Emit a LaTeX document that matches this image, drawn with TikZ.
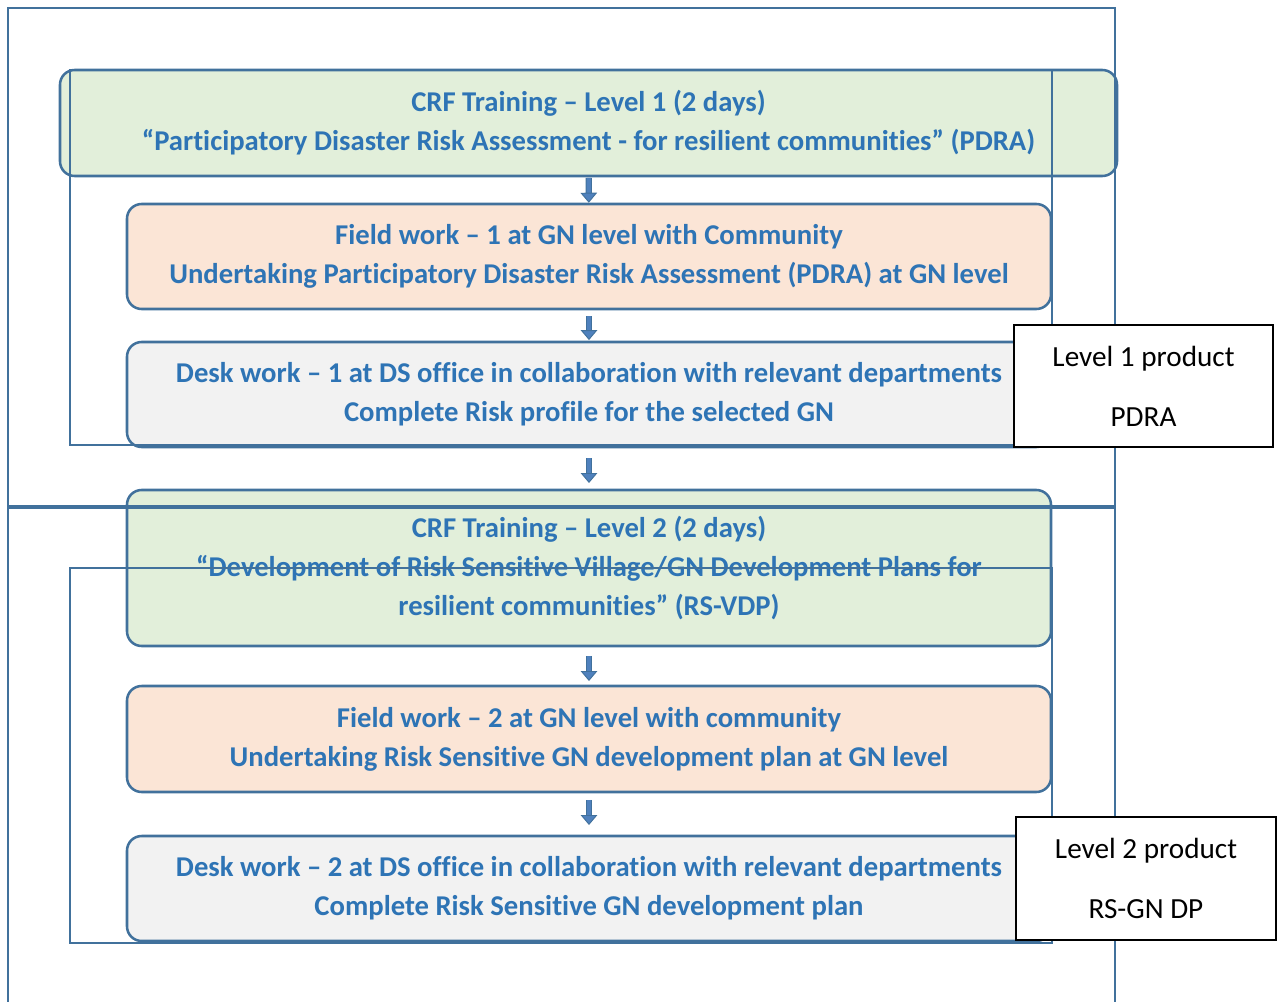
\documentclass[tikz,border=0pt]{standalone}
\usepackage{fontspec}
\setmainfont{Carlito}[Ligatures=NoCommon]
\usetikzlibrary{arrows.meta}

\definecolor{edgeblue}{RGB}{65,113,156}
\definecolor{textblue}{RGB}{46,116,181}
\definecolor{greenfill}{RGB}{226,239,218}
\definecolor{peachfill}{RGB}{251,229,214}
\definecolor{greyfill}{RGB}{242,242,242}
\definecolor{arrowfill}{RGB}{79,129,189}

\tikzset{
  stage/.style={draw=edgeblue, line width=1.9pt, rounded corners=11pt, text=textblue,
    align=center, inner sep=0pt, font=\fontsize{21.5}{29.25}\selectfont\bfseries},
  trainbox/.style={stage, fill=greenfill},
  fieldbox/.style={stage, fill=peachfill},
  deskbox/.style={stage, fill=greyfill},
  productbox/.style={draw=black, line width=1.4pt, fill=white, text=black, align=center,
    inner sep=0pt, font=\fontsize{21.9}{29.25}\selectfont},
  frame/.style={draw=edgeblue, line width=1.5pt},
  flowarrow/.style={draw=edgeblue, line width=0.7pt, double=arrowfill, double distance=3.2pt,
    -{Triangle[width=12.5pt,length=7.5pt,color=edgeblue,fill=arrowfill,line width=0.7pt]}}
}

\begin{document}
\begin{tikzpicture}[x=0.75pt,y=0.75pt,yscale=-1,xscale=1]
\useasboundingbox (0,0) rectangle (1277,1002);

%Shape: Rounded Rect -- level 1
\node [trainbox, minimum width=792.75pt, minimum height=79.5pt] (crfone) at (588.5,123)
  {CRF Training – Level 1 (2 days)\\“Participatory Disaster Risk Assessment - for resilient communities” (PDRA)};
%Shape: Rounded Rect
\node [fieldbox, minimum width=693pt, minimum height=78.75pt] (fieldone) at (589,256.5)
  {Field work – 1 at GN level with Community\\Undertaking Participatory Disaster Risk Assessment (PDRA) at GN level};
%Shape: Rounded Rect
\node [deskbox, minimum width=693pt, minimum height=78.75pt] (deskone) at (589,394.5)
  {Desk work – 1 at DS office in collaboration with relevant departments\\Complete Risk profile for the selected GN};

%Shape: Rounded Rect -- level 2
\node [trainbox, minimum width=693pt, minimum height=117pt] (crftwo) at (589,568)
  {CRF Training – Level 2 (2 days)\\“Development of Risk Sensitive Village/GN Development Plans for\\resilient communities” (RS-VDP)};
%Shape: Rounded Rect
\node [fieldbox, minimum width=693pt, minimum height=79.5pt] (fieldtwo) at (589,739)
  {Field work – 2 at GN level with community\\Undertaking Risk Sensitive GN development plan at GN level};
%Shape: Rounded Rect
\node [deskbox, minimum width=693pt, minimum height=78.75pt] (desktwo) at (589,888.5)
  {Desk work – 2 at DS office in collaboration with relevant departments\\Complete Risk Sensitive GN development plan};

%Down Arrows
\draw [flowarrow, shorten <=0.5pt] (crfone) -- (fieldone);
\draw [flowarrow, shorten <=4.3pt, shorten >=0.5pt] (fieldone) -- (deskone);
\draw [flowarrow, shorten <=7.3pt, shorten >=4.3pt] (deskone) -- (crftwo);
\draw [flowarrow, shorten <=6.5pt, shorten >=2.8pt] (crftwo) -- (fieldtwo);
\draw [flowarrow, shorten <=5pt, shorten >=7.3pt] (fieldtwo) -- (desktwo);

%Straight Lines -- outer frames
\draw [frame] (8,8) rectangle (1115,506);
\draw [frame] (8,1012) -- (8,508) -- (1115,508) -- (1115,1012);
%Straight Lines -- inner frames
\draw [frame] (70,70) rectangle (1052,445);
\draw [frame] (70,568) rectangle (1052,943);

% Text Node
\node [productbox, minimum width=194.25pt, minimum height=91.5pt] (prodone) at (1143.5,386)
  {Level 1 product\\[15.75pt]PDRA};
% Text Node
\node [productbox, minimum width=195pt, minimum height=92.25pt] (prodtwo) at (1146,878.5)
  {Level 2 product\\[15.75pt]RS-GN DP};

\end{tikzpicture}
\end{document}
